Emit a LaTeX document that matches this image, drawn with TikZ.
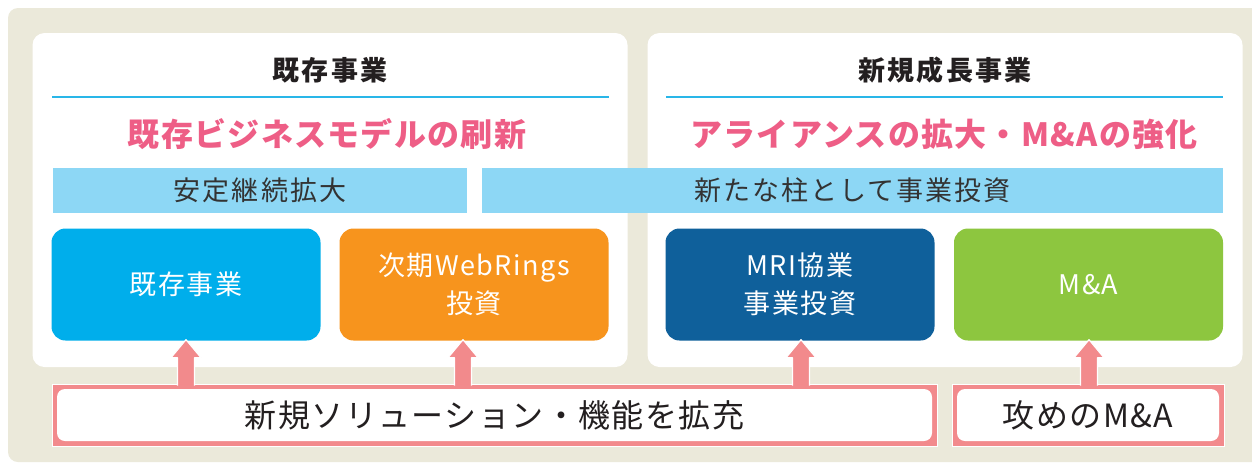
\documentclass[tikz,border=0pt]{standalone}
\usepackage{fontspec}
\setmainfont{Noto Sans CJK JP}
\usetikzlibrary{calc}
\definecolor{beige}{HTML}{EBE9DA}
\definecolor{rulecol}{HTML}{29B6E8}
\definecolor{headpink}{HTML}{EE5E86}
\definecolor{barblue}{HTML}{8DD7F5}
\definecolor{boxblue}{HTML}{00AEEB}
\definecolor{boxorange}{HTML}{F7941D}
\definecolor{boxnavy}{HTML}{0F609B}
\definecolor{boxgreen}{HTML}{8DC63F}
\definecolor{arrpink}{HTML}{F28A8C}
\definecolor{darktext}{HTML}{231F20}
\definecolor{bartext}{HTML}{333333}
\newcommand\myuparrow[3]{%
  \filldraw[arrowshape] let \p1=(#2.south), \p2=(#3.north) in
    (#1pt-8.5pt,\y2-2pt) -- (#1pt-8.5pt,\y1-17pt) -- (#1pt-15pt,\y1-17pt) --
    (#1pt,\y1+1pt) -- (#1pt+15pt,\y1-17pt) -- (#1pt+8.5pt,\y1-17pt) -- (#1pt+8.5pt,\y2-2pt);}
\begin{document}
\begin{tikzpicture}[x=1pt,y=-1pt,
  panel/.style={fill=white, rounded corners=12pt, inner sep=0pt, minimum width=595pt, minimum height=334pt},
  titletext/.style={text=darktext, font=\fontsize{27}{32}\selectfont\bfseries\addfontfeatures{LetterSpace=8}, inner sep=0pt},
  rulebar/.style={fill=rulecol, inner sep=0pt, minimum width=557pt, minimum height=2pt},
  heading/.style={text=headpink, font=\fontsize{32}{38}\selectfont\bfseries\addfontfeatures{LetterSpace=4}, inner sep=0pt},
  bar/.style={fill=barblue, text=bartext, font=\fontsize{27}{32}\selectfont\addfontfeatures{LetterSpace=7.5}, inner sep=0pt, minimum height=45pt},
  colbox/.style={rounded corners=14pt, text=white, font=\fontsize{27}{38}\selectfont\addfontfeatures{LetterSpace=5.5}, align=center, inner sep=0pt, minimum width=269pt, minimum height=112pt},
  frameouter/.style={fill=arrpink, draw=white, line width=1pt, inner sep=0pt, minimum height=62pt},
  frameinner/.style={fill=white, rounded corners=8pt, text=darktext, font=\fontsize{32}{38}\selectfont\addfontfeatures{LetterSpace=4.5}, inner sep=0pt, minimum height=52pt},
  arrowshape/.style={fill=arrpink, draw=white, line width=1.2pt, line join=round}
]
\useasboundingbox (0,0) rectangle (1252,464);
\clip (0,0) rectangle (1252,464);
\fill[white] (0,0) rectangle (1252,464);
\fill[beige, rounded corners=10pt] (8,8) rectangle (1275,462);

% panels
\node[panel] (pL) at (330,200) {};
\node[panel] (pR) at (945,200) {};

% titles and rules
\node[titletext] (tL) at (330,70) {既存事業};
\node[titletext] (tR) at (945,70) {新規成長事業};
\node[rulebar] (rL) at (330,97) {};
\node[rulebar] (rR) at (944.5,97) {};

% headings
\node[heading] (hL) at (327,134) {既存ビジネスモデルの刷新};
\node[heading] (hR) at (944,134) {アライアンスの拡大・M\&Aの強化};

% bars
\node[bar, minimum width=414pt] (bL) at (260,190) {安定継続拡大};
\node[bar, minimum width=741pt] (bR) at (852.5,190) {新たな柱として事業投資};

% coloured boxes
\node[colbox, fill=boxblue] (b1) at (186,284.5) {既存事業};
\node[colbox, fill=boxorange] (b2) at (474,284.5) {次期WebRings\\投資};
\node[colbox, fill=boxnavy] (b3) at (800,284.5) {MRI協業\\事業投資};
\node[colbox, fill=boxgreen] (b4) at (1088.5,284.5) {M\&A};

% bottom frames
\node[frameouter, minimum width=885pt] (f1) at (494.5,415) {};
\node[frameouter, minimum width=272pt] (f2) at (1088,415) {};

% arrows
\myuparrow{186}{b1}{f1}
\myuparrow{463}{b2}{f1}
\myuparrow{801}{b3}{f1}
\myuparrow{1089}{b4}{f2}

\node[frameinner, minimum width=875pt] (f1i) at (f1) {新規ソリューション・機能を拡充};
\node[frameinner, minimum width=262pt] (f2i) at (f2) {攻めのM\&A};
\end{tikzpicture}
\end{document}
